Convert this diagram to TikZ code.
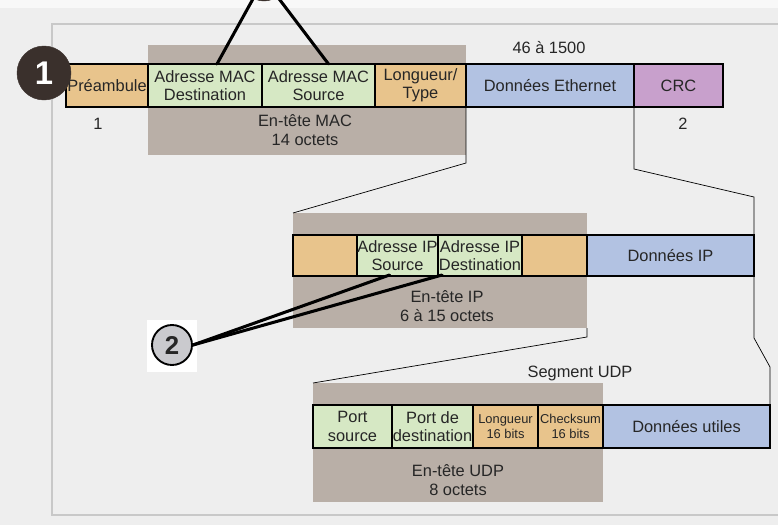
\documentclass[tikz,border=0pt]{standalone}
\usepackage{fontspec}
\setmainfont{Liberation Sans}
\usepackage{tikz}
\usetikzlibrary{positioning, calc}
\definecolor{PanelGray}{RGB}{238,238,238}
\definecolor{EdgeGray}{RGB}{200,200,200}
\definecolor{HdrGray}{RGB}{185,175,167}
\definecolor{FieldOrange}{RGB}{232,196,140}
\definecolor{FieldGreen}{RGB}{214,232,196}
\definecolor{FieldBlue}{RGB}{178,194,226}
\definecolor{FieldPurple}{RGB}{200,160,204}
\definecolor{MarkDark}{RGB}{58,48,44}
\definecolor{MarkLight}{RGB}{202,202,206}
\def\px{0.03cm}
\tikzset{
  field/.style={draw=black, line width=1.2pt, outer sep=0pt, inner xsep=0pt, inner ysep=1pt, minimum height=43*\px,
    align=center, font=\fontsize{14}{15.5}\selectfont, text=black!85},
  smallfield/.style={field, font=\fontsize{11}{13}\selectfont},
  hdrbox/.style={fill=HdrGray, draw=none, outer sep=0pt, inner sep=0pt, anchor=north west},
  lbl/.style={font=\fontsize{14}{16}\selectfont, align=center, text=black!85, inner sep=1pt},
  zoomline/.style={draw=black, line width=0.6pt},
  pointer/.style={draw=black, line width=2.6pt, line cap=round},
  markdark/.style={circle, fill=MarkDark, draw=MarkDark, minimum size=54*\px, inner sep=0pt,
    text=white, font=\fontsize{28}{28}\selectfont\bfseries},
  marklight/.style={circle, fill=MarkLight, draw=black, line width=1.6pt, minimum size=40*\px, inner sep=0pt,
    text=black!85, font=\fontsize{22}{22}\selectfont\bfseries},
}
\begin{document}
\begin{tikzpicture}[x=\px, y=-\px]
  \useasboundingbox (0,0) rectangle (778,525);
  \fill[PanelGray] (0,0) rectangle (778,525);
  \fill[white!60!PanelGray] (0,0) rectangle (778,8);
  \draw[EdgeGray, line width=2pt] (778,24) -- (52,24) -- (52,515) -- (778,515);

  \node[hdrbox, minimum width=318*\px, minimum height=110*\px] (machdr) at (148,45) {};
  \node[hdrbox, minimum width=294*\px, minimum height=115*\px] (iphdr) at (293,213) {};
  \node[hdrbox, minimum width=290*\px, minimum height=119*\px] (udphdr) at (313,383) {};

  \node[field, fill=FieldOrange, anchor=north west, minimum width=82*\px] (pre) at (66,64) {Préambule};
  \node[field, fill=FieldGreen, minimum width=114*\px, right=0pt of pre] (macdst) {Adresse MAC\\Destination};
  \node[field, fill=FieldGreen, minimum width=113*\px, right=0pt of macdst] (macsrc) {Adresse MAC\\Source};
  \node[field, fill=FieldOrange, minimum width=91*\px, right=0pt of macsrc] (type) {Longueur/\\Type};
  \node[field, fill=FieldBlue, minimum width=168*\px, right=0pt of type] (eth) {Données Ethernet};
  \node[field, fill=FieldPurple, minimum width=89*\px, right=0pt of eth] (crc) {CRC};

  \node[lbl] (lenmac) at (549,48) {46 à 1500};
  \node[lbl] (lenpre) at (98,124) {1};
  \node[lbl] (lencrc) at (683,124) {2};
  \node[lbl] (txtmac) at (305,130) {En-tête MAC\\14 octets};

  \node[field, fill=FieldOrange, anchor=north west, minimum width=64*\px, minimum height=41*\px] (ipa) at (293,235) {};
  \node[field, fill=FieldGreen, minimum width=81*\px, minimum height=41*\px, right=0pt of ipa] (ipsrc) {Adresse IP\\Source};
  \node[field, fill=FieldGreen, minimum width=84*\px, minimum height=41*\px, right=0pt of ipsrc] (ipdst) {Adresse IP\\Destination};
  \node[field, fill=FieldOrange, minimum width=65*\px, minimum height=41*\px, right=0pt of ipdst] (ipb) {};
  \node[field, fill=FieldBlue, minimum width=167*\px, minimum height=41*\px, right=0pt of ipb] (ipdata) {Données IP};
  \node[lbl] (txtip) at (447,306) {En-tête IP\\6 à 15 octets};

  \node[field, fill=FieldGreen, anchor=north west, minimum width=79*\px] (psrc) at (313,405) {Port\\source};
  \node[field, fill=FieldGreen, minimum width=81*\px, right=0pt of psrc] (pdst) {Port de\\destination};
  \node[smallfield, fill=FieldOrange, minimum width=65*\px, right=0pt of pdst] (ulen) {Longueur\\16 bits};
  \node[smallfield, fill=FieldOrange, minimum width=65*\px, right=0pt of ulen] (csum) {Checksum\\16 bits};
  \node[field, fill=FieldBlue, minimum width=167*\px, right=0pt of csum] (udata) {Données utiles};
  \node[lbl] (txtseg) at (580,373) {Segment UDP};
  \node[lbl] (txtudp) at (458,480) {En-tête UDP\\8 octets};

  \draw[zoomline] (eth.south west) -- (466,163) -- (iphdr.north west);
  \draw[zoomline] (crc.south west) -- (634,169) -- (754,197) -- (754,338) -- (770,367) -- (udata.north east);
  \draw[zoomline] (iphdr.south east) -- ++(0,9) -- (udphdr.north west);

  \node[markdark] (m1) at (44,73) {1};
  \fill[white] (147,320) rectangle (197,372);
  \node[marklight] (m2) at (172,345) {2};
  \node[markdark, minimum size=44*\px] (m3) at (264,-21) {};

  \draw[pointer] (m3) -- ($(macdst.north)+(12,0)$);
  \draw[pointer] (m3) -- ($(macsrc.north)+(10,0)$);
  \draw[pointer] (m2.east) -- ($(ipsrc.south)+(-8,-1)$);
  \draw[pointer] (m2.east) -- ($(ipdst.south west)+(4,-1)$);
\end{tikzpicture}
\end{document}
